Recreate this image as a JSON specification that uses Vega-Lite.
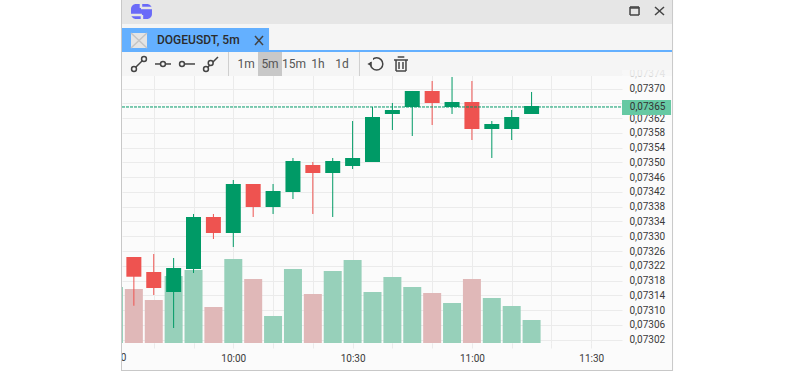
{
"$schema":"https://vega.github.io/schema/vega-lite/v6.json",
"width":500,"height":273,
"autosize":{"type":"none"},
"padding":{"left":122,"top":70,"right":178,"bottom":28},
"background":"#fbfbfb",
"view":{"stroke":null},
"config":{"font":"Roboto"},
"datasets":{
"candles":[
{"t":"2024-01-01T09:30:00","vol":56,"dir":"up"},
{"t":"2024-01-01T09:35:00","vol":54,"dir":"down","hi":0.0732439,"lo":0.0731120,"top":0.0732439,"bot":0.0731905},
{"t":"2024-01-01T09:40:00","vol":43,"dir":"down","hi":0.0732520,"lo":0.0731410,"top":0.0732033,"bot":0.0731600},
{"t":"2024-01-01T09:45:00","vol":67,"dir":"up","hi":0.0732412,"lo":0.0730517,"top":0.0732141,"bot":0.0731491},
{"t":"2024-01-01T09:50:00","vol":73,"dir":"up","hi":0.0733603,"lo":0.0732006,"top":0.0733522,"bot":0.0732114},
{"t":"2024-01-01T09:55:00","vol":36,"dir":"down","hi":0.0733603,"lo":0.0732926,"top":0.0733522,"bot":0.0733088},
{"t":"2024-01-01T10:00:00","vol":84,"dir":"up","hi":0.0734523,"lo":0.0732710,"top":0.0734415,"bot":0.0733088},
{"t":"2024-01-01T10:05:00","vol":64,"dir":"down","hi":0.0734415,"lo":0.0733522,"top":0.0734415,"bot":0.0733792},
{"t":"2024-01-01T10:10:00","vol":27,"dir":"up","hi":0.0734415,"lo":0.0733603,"top":0.0734225,"bot":0.0733792},
{"t":"2024-01-01T10:15:00","vol":74,"dir":"up","hi":0.0735119,"lo":0.0734009,"top":0.0735038,"bot":0.0734198},
{"t":"2024-01-01T10:20:00","vol":49,"dir":"down","hi":0.0735011,"lo":0.0733603,"top":0.0734929,"bot":0.0734713},
{"t":"2024-01-01T10:25:00","vol":72,"dir":"up","hi":0.0735119,"lo":0.0733522,"top":0.0735038,"bot":0.0734713},
{"t":"2024-01-01T10:30:00","vol":83,"dir":"up","hi":0.0736120,"lo":0.0734821,"top":0.0735119,"bot":0.0734902},
{"t":"2024-01-01T10:35:00","vol":51,"dir":"up","hi":0.0736499,"lo":0.0735011,"top":0.0736229,"bot":0.0735011},
{"t":"2024-01-01T10:40:00","vol":66,"dir":"up","hi":0.0736608,"lo":0.0735877,"top":0.0736418,"bot":0.0736310},
{"t":"2024-01-01T10:45:00","vol":56,"dir":"up","hi":0.0736933,"lo":0.0735714,"top":0.0736933,"bot":0.0736499},
{"t":"2024-01-01T10:50:00","vol":50,"dir":"down","hi":0.0737203,"lo":0.0736012,"top":0.0736933,"bot":0.0736608},
{"t":"2024-01-01T10:55:00","vol":40,"dir":"up","hi":0.0737312,"lo":0.0736310,"top":0.0736635,"bot":0.0736499},
{"t":"2024-01-01T11:00:00","vol":64,"dir":"down","hi":0.0737203,"lo":0.0735606,"top":0.0736635,"bot":0.0735904},
{"t":"2024-01-01T11:05:00","vol":45,"dir":"up","hi":0.0736120,"lo":0.0735119,"top":0.0736039,"bot":0.0735904},
{"t":"2024-01-01T11:10:00","vol":37,"dir":"up","hi":0.0736418,"lo":0.0735606,"top":0.0736229,"bot":0.0735904},
{"t":"2024-01-01T11:15:00","vol":23,"dir":"up","hi":0.0736906,"lo":0.0736310,"top":0.0736527,"bot":0.0736310}
],
"last":[{"t":"2024-01-01T09:32:01","t2":"2024-01-01T11:37:44","price":0.07365}],
"cutLabel":[{"label":"09:30","t":"2024-01-01T09:30:00","p":0.0729705}],
"panels":[
{"part":"plotfade","t":"2024-01-01T11:37:44","t2":"2024-01-01T11:50:19","p":0.0737501,"p2":0.0737339},
{"part":"toolbar","t":"2024-01-01T09:32:01","t2":"2024-01-01T11:37:44","p":0.0737501,"p2":0.0737339},
{"part":"toolbar","t":"2024-01-01T09:32:01","t2":"2024-01-01T11:50:19","p":0.0737988,"p2":0.0737501},
{"part":"titlebar","t":"2024-01-01T09:32:01","t2":"2024-01-01T11:50:19","p":0.0739396,"p2":0.0738746},
{"part":"toolbar","t":"2024-01-01T09:32:01","t2":"2024-01-01T11:50:19","p":0.0738746,"p2":0.0738043},
{"part":"blue","t":"2024-01-01T09:32:01","t2":"2024-01-01T10:08:59","p":0.0738638,"p2":0.0738043},
{"part":"blue","t":"2024-01-01T09:32:01","t2":"2024-01-01T11:50:19","p":0.0738043,"p2":0.0737988},
{"part":"active","t":"2024-01-01T10:06:13","t2":"2024-01-01T10:12:15","p":0.0737988,"p2":0.0737339},
{"part":"sep","t":"2024-01-01T09:58:40","t2":"2024-01-01T09:58:55","p":0.0737988,"p2":0.0737339},
{"part":"sep","t":"2024-01-01T10:31:36","t2":"2024-01-01T10:31:51","p":0.0737988,"p2":0.0737339},
{"part":"iconbox","t":"2024-01-01T09:34:17","t2":"2024-01-01T09:38:18","p":0.0738503,"p2":0.0738097},
{"part":"pricebox","t":"2024-01-01T11:37:44","t2":"2024-01-01T11:50:04","p":0.0736689,"p2":0.0736283},
{"part":"white","t":"2024-01-01T09:01:20","t2":"2024-01-01T09:31:46","p":0.0739396,"p2":0.0729353},
{"part":"white","t":"2024-01-01T11:50:34","t2":"2024-01-01T12:22:28","p":0.0739396,"p2":0.0729353},
{"part":"border","t":"2024-01-01T09:31:46","t2":"2024-01-01T09:32:01","p":0.0739396,"p2":0.0729353},
{"part":"border","t":"2024-01-01T11:50:19","t2":"2024-01-01T11:50:34","p":0.0739396,"p2":0.0729353},
{"part":"border","t":"2024-01-01T09:32:01","t2":"2024-01-01T11:50:19","p":0.0729380,"p2":0.0729353}
],
"strokes":[
{"kind":"dark","t":"2024-01-01T09:35:02","t2":"2024-01-01T09:37:33","p":0.0737528,"p2":0.0737799},
{"kind":"dark","t":"2024-01-01T09:40:19","t2":"2024-01-01T09:44:20","p":0.0737664,"p2":0.0737664},
{"kind":"dark","t":"2024-01-01T09:47:06","t2":"2024-01-01T09:50:22","p":0.0737664,"p2":0.0737664},
{"kind":"dark","t":"2024-01-01T09:53:08","t2":"2024-01-01T09:56:09","p":0.0737528,"p2":0.0737853},
{"kind":"dark","t":"2024-01-01T11:46:02","t2":"2024-01-01T11:48:18","p":0.0739207,"p2":0.0738990},
{"kind":"dark","t":"2024-01-01T11:46:02","t2":"2024-01-01T11:48:18","p":0.0738990,"p2":0.0739207},
{"kind":"dark","t":"2024-01-01T10:05:27","t2":"2024-01-01T10:07:28","p":0.0738422,"p2":0.0738178},
{"kind":"dark","t":"2024-01-01T10:05:27","t2":"2024-01-01T10:07:28","p":0.0738178,"p2":0.0738422},
{"kind":"dark","t":"2024-01-01T11:39:45","t2":"2024-01-01T11:42:01","p":0.0739207,"p2":0.0739207},
{"kind":"dark","t":"2024-01-01T11:39:45","t2":"2024-01-01T11:42:01","p":0.0739180,"p2":0.0739180},
{"kind":"dark","t":"2024-01-01T11:39:45","t2":"2024-01-01T11:42:01","p":0.0738990,"p2":0.0738990},
{"kind":"dark","t":"2024-01-01T11:39:45","t2":"2024-01-01T11:39:45","p":0.0739207,"p2":0.0738990},
{"kind":"dark","t":"2024-01-01T11:42:01","t2":"2024-01-01T11:42:01","p":0.0739207,"p2":0.0738990},
{"kind":"dark","t":"2024-01-01T10:40:24","t2":"2024-01-01T10:43:56","p":0.0737772,"p2":0.0737772},
{"kind":"dark","t":"2024-01-01T10:41:20","t2":"2024-01-01T10:43:00","p":0.0737853,"p2":0.0737853},
{"kind":"dark","t":"2024-01-01T10:40:55","t2":"2024-01-01T10:40:55","p":0.0737772,"p2":0.0737474},
{"kind":"dark","t":"2024-01-01T10:43:25","t2":"2024-01-01T10:43:25","p":0.0737772,"p2":0.0737474},
{"kind":"dark","t":"2024-01-01T10:40:55","t2":"2024-01-01T10:43:25","p":0.0737474,"p2":0.0737474},
{"kind":"dark","t":"2024-01-01T10:41:40","t2":"2024-01-01T10:41:40","p":0.0737718,"p2":0.0737528},
{"kind":"dark","t":"2024-01-01T10:42:40","t2":"2024-01-01T10:42:40","p":0.0737718,"p2":0.0737528},
{"kind":"grey","t":"2024-01-01T09:34:17","t2":"2024-01-01T09:38:18","p":0.0738503,"p2":0.0738097},
{"kind":"grey","t":"2024-01-01T09:34:17","t2":"2024-01-01T09:38:18","p":0.0738097,"p2":0.0738503}
],
"logo":[{"t":"2024-01-01T09:34:17","t2":"2024-01-01T09:39:33","p":0.0739288,"p2":0.0738882}],
"logoCuts":[
{"t":"2024-01-01T09:36:47","t2":"2024-01-01T09:39:33","p":0.0739180,"p2":0.0739180},
{"t":"2024-01-01T09:34:17","t2":"2024-01-01T09:37:02","p":0.0738990,"p2":0.0738990},
{"t":"2024-01-01T09:36:47","t2":"2024-01-01T09:36:47","p":0.0739288,"p2":0.0739180},
{"t":"2024-01-01T09:37:02","t2":"2024-01-01T09:37:02","p":0.0738990,"p2":0.0738882}
],
"knobs":[
{"t":"2024-01-01T09:35:02","p":0.0737528},
{"t":"2024-01-01T09:37:33","p":0.0737799},
{"t":"2024-01-01T09:42:19","p":0.0737664},
{"t":"2024-01-01T09:47:06","p":0.0737664},
{"t":"2024-01-01T09:53:08","p":0.0737528},
{"t":"2024-01-01T09:54:19","p":0.0737691}
],
"resetRing":[{"t":"2024-01-01T10:36:03","p":0.0737664}],
"resetGap":[{"t":"2024-01-01T10:34:07","t2":"2024-01-01T10:35:08","p":0.0737853,"p2":0.0737718}],
"resetArrow":[{"t":"2024-01-01T10:34:15","p":0.0737664}],
"periods":[
{"label":"1m","t":"2024-01-01T10:03:12","p":0.0737664},
{"label":"5m","t":"2024-01-01T10:09:14","p":0.0737664},
{"label":"15m","t":"2024-01-01T10:15:16","p":0.0737664},
{"label":"1h","t":"2024-01-01T10:21:18","p":0.0737664},
{"label":"1d","t":"2024-01-01T10:27:20","p":0.0737664}
],
"tabTitle":[{"label":"DOGEUSDT, 5m","t":"2024-01-01T09:40:49","p":0.0738313}],
"priceTag":[{"label":"0,07365","t":"2024-01-01T11:39:41","p":0.0736486}]
},
"encoding":{
"x":{"field":"t","type":"temporal","title":null,
"scale":{"padding":0,"domain":[{"year":2024,"month":1,"date":1,"hours":9,"minutes":32,"seconds":1},{"year":2024,"month":1,"date":1,"hours":11,"minutes":37,"seconds":44}]},
"axis":{
"values":[
{"year":2024,"month":1,"date":1,"hours":9,"minutes":40},{"year":2024,"month":1,"date":1,"hours":9,"minutes":50},
{"year":2024,"month":1,"date":1,"hours":10,"minutes":0},{"year":2024,"month":1,"date":1,"hours":10,"minutes":10},{"year":2024,"month":1,"date":1,"hours":10,"minutes":20},
{"year":2024,"month":1,"date":1,"hours":10,"minutes":30},{"year":2024,"month":1,"date":1,"hours":10,"minutes":40},{"year":2024,"month":1,"date":1,"hours":10,"minutes":50},
{"year":2024,"month":1,"date":1,"hours":11,"minutes":0},{"year":2024,"month":1,"date":1,"hours":11,"minutes":10},{"year":2024,"month":1,"date":1,"hours":11,"minutes":20},
{"year":2024,"month":1,"date":1,"hours":11,"minutes":30}],
"labelExpr":"minutes(datum.value)%30==0 ? timeFormat(datum.value,'%H:%M') : ''",
"grid":true,"gridColor":"#ebebeb","gridWidth":1,
"domain":false,"tickColor":"#ebebeb","tickSize":5,
"labelFont":"Roboto","labelFontSize":10,"labelColor":"#3a3a3a","labelPadding":5,
"labelBound":false,"labelFlush":false,"labelOverlap":false,"labelAngle":0,"title":null}}
},
"layer":[
{"data":{"name":"candles"},"mark":{"type":"bar","size":18,"clip":true},
"encoding":{
"y":{"field":"vol","type":"quantitative","scale":{"domain":[0,273]},"axis":null},
"color":{"field":"dir","type":"nominal","scale":{"domain":["up","down"],"range":["#97d0ba","#e0b8b8"]},"legend":null}}},
{"data":{"name":"candles"},"transform":[{"filter":"isValid(datum.hi)"}],"mark":{"type":"rule","strokeWidth":1,"clip":true},
"encoding":{
"y":{"field":"hi","type":"quantitative","title":null,"scale":{"domain":[0.0730111,0.0737501],"zero":false,"nice":false},
"axis":{"orient":"right","values":[0.07302,0.07306,0.0731,0.07314,0.07318,0.07322,0.07326,0.0733,0.07334,0.07338,0.07342,0.07346,0.0735,0.07354,0.07358,0.07362,0.07366,0.0737,0.07374],
"labelExpr":"abs(datum.value-0.07366)<0.000001 ? '' : replace(format(datum.value,'.5f'),'.',',')",
"grid":true,"gridColor":"#ebebeb","gridWidth":1,"domain":false,"ticks":false,
"labelFont":"Roboto","labelFontSize":10,"labelColor":{"condition":{"test":"datum.value>0.07372","value":"#cfcfcf"},"value":"#3a3a3a"},
"labelPadding":7,"labelBound":false,"labelFlush":false,"labelOverlap":false,"title":null}},
"y2":{"field":"lo"},
"color":{"field":"dir","type":"nominal","scale":{"domain":["up","down"],"range":["#009a66","#ee5350"]},"legend":null}}},
{"data":{"name":"candles"},"transform":[{"filter":"isValid(datum.hi)"}],"mark":{"type":"bar","size":15,"clip":true},
"encoding":{
"y":{"field":"top","type":"quantitative","scale":{"domain":[0.0730111,0.0737501],"zero":false,"nice":false},"axis":null},
"y2":{"field":"bot"},
"color":{"field":"dir","type":"nominal","scale":{"domain":["up","down"],"range":["#009a66","#ee5350"]},"legend":null}}},
{"data":{"name":"last"},"mark":{"type":"rule","color":"#009a66","strokeWidth":1,"strokeDash":[3,1]},
"encoding":{
"x2":{"field":"t2"},
"y":{"field":"price","type":"quantitative","scale":{"domain":[0.0730111,0.0737501],"zero":false,"nice":false},"axis":null}}},
{"data":{"name":"cutLabel"},"mark":{"type":"text","font":"Roboto","fontSize":10,"color":"#3a3a3a","align":"center","baseline":"middle"},
"encoding":{"text":{"field":"label"},
"y":{"field":"p","type":"quantitative","scale":{"domain":[0.0730111,0.0737501],"zero":false,"nice":false},"axis":null}}},
{"data":{"name":"panels"},"mark":{"type":"rect"},
"encoding":{
"x2":{"field":"t2"},
"y":{"field":"p","type":"quantitative","scale":{"domain":[0.0730111,0.0737501],"zero":false,"nice":false},"axis":null},
"y2":{"field":"p2"},
"color":{"field":"part","type":"nominal","legend":null,"scale":{
"domain":["plotfade","toolbar","titlebar","blue","active","sep","iconbox","pricebox","white","border"],
"range":["rgba(245,245,245,0.55)","#f5f5f5","#e6e6e6","#64b0ff","#c8c8c8","#cfcfcf","#e4e4e4","#66c9a3","#ffffff","#c8c8c8"]}}}},
{"data":{"name":"logo"},"mark":{"type":"rect","color":"#6a6af8","cornerRadius":5},
"encoding":{"x2":{"field":"t2"},
"y":{"field":"p","type":"quantitative","scale":{"domain":[0.0730111,0.0737501],"zero":false,"nice":false},"axis":null},
"y2":{"field":"p2"}}},
{"data":{"name":"logoCuts"},"mark":{"type":"rule","color":"#e6e6e6","strokeWidth":2.5},
"encoding":{"x2":{"field":"t2"},
"y":{"field":"p","type":"quantitative","scale":{"domain":[0.0730111,0.0737501],"zero":false,"nice":false},"axis":null},
"y2":{"field":"p2"}}},
{"data":{"name":"strokes"},"mark":{"type":"rule","strokeWidth":1.5},
"encoding":{"x2":{"field":"t2"},
"y":{"field":"p","type":"quantitative","scale":{"domain":[0.0730111,0.0737501],"zero":false,"nice":false},"axis":null},
"y2":{"field":"p2"},
"color":{"field":"kind","type":"nominal","legend":null,"scale":{"domain":["dark","grey"],"range":["#444444","#c4c4c4"]}}}},
{"data":{"name":"knobs"},"mark":{"type":"point","shape":"circle","filled":true,"fill":"#f5f5f5","stroke":"#444444","strokeWidth":1.5,"size":24,"opacity":1},
"encoding":{"y":{"field":"p","type":"quantitative","scale":{"domain":[0.0730111,0.0737501],"zero":false,"nice":false},"axis":null}}},
{"data":{"name":"resetRing"},"mark":{"type":"point","shape":"circle","stroke":"#444444","strokeWidth":1.5,"size":150,"opacity":1},
"encoding":{"y":{"field":"p","type":"quantitative","scale":{"domain":[0.0730111,0.0737501],"zero":false,"nice":false},"axis":null}}},
{"data":{"name":"resetGap"},"mark":{"type":"rect","color":"#f5f5f5"},
"encoding":{"x2":{"field":"t2"},
"y":{"field":"p","type":"quantitative","scale":{"domain":[0.0730111,0.0737501],"zero":false,"nice":false},"axis":null},
"y2":{"field":"p2"}}},
{"data":{"name":"resetArrow"},"mark":{"type":"point","shape":"triangle-left","filled":true,"color":"#444444","size":24,"opacity":1},
"encoding":{"y":{"field":"p","type":"quantitative","scale":{"domain":[0.0730111,0.0737501],"zero":false,"nice":false},"axis":null}}},
{"data":{"name":"periods"},"mark":{"type":"text","font":"Roboto","fontSize":12,"color":"#555555","align":"center","baseline":"middle"},
"encoding":{"text":{"field":"label"},
"y":{"field":"p","type":"quantitative","scale":{"domain":[0.0730111,0.0737501],"zero":false,"nice":false},"axis":null}}},
{"data":{"name":"tabTitle"},"mark":{"type":"text","font":"Roboto","fontSize":12,"fontWeight":500,"color":"#2b2b2b","align":"left","baseline":"middle"},
"encoding":{"text":{"field":"label"},
"y":{"field":"p","type":"quantitative","scale":{"domain":[0.0730111,0.0737501],"zero":false,"nice":false},"axis":null}}},
{"data":{"name":"priceTag"},"mark":{"type":"text","font":"Roboto","fontSize":10,"color":"#333333","align":"left","baseline":"middle"},
"encoding":{"text":{"field":"label"},
"y":{"field":"p","type":"quantitative","scale":{"domain":[0.0730111,0.0737501],"zero":false,"nice":false},"axis":null}}}
],
"resolve":{"scale":{"y":"independent","color":"independent"}}
}
